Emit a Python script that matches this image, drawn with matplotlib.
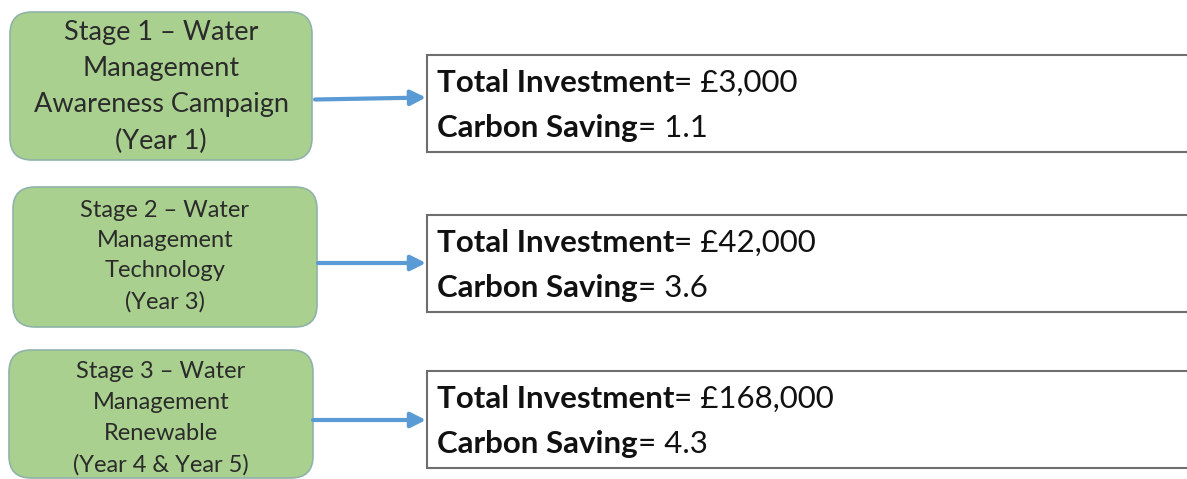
import matplotlib
matplotlib.use("Agg")
import matplotlib.pyplot as plt
from matplotlib.patches import FancyBboxPatch, Rectangle

stage_labels = [
    "Stage 1 \u2013 Water\nManagement\nAwareness Campaign\n(Year 1)",
    "Stage 2 \u2013 Water\nManagement\nTechnology\n(Year 3)",
    "Stage 3 \u2013 Water\nManagement\nRenewable\n(Year 4 & Year 5)",
]
investments = ["\u00a33,000", "\u00a342,000", "\u00a3168,000"]
carbon_savings = ["1.1", "3.6", "4.3"]

# layout (pixel coordinates)
green_boxes = [(10, 12, 302, 148), (13, 187, 304, 140), (9, 350, 304, 128)]
green_fs = [19.5, 17.0, 17.0]
green_ls = [1.55, 1.55, 1.58]
green_dy = [1, -1, 4]
white_boxes = [(427, 55, 780, 97), (427, 215, 780, 97), (427, 371, 780, 97)]
arrows = [((315, 99.5), (426, 97.5)), ((318, 263), (426, 263)), ((313, 420), (426, 420))]

plt.rcParams['font.family'] = ['Lato', 'DejaVu Sans']

fig = plt.figure(figsize=(11.87, 4.79), dpi=100)
ax = fig.add_axes([0, 0, 1, 1])
ax.set_xlim(0, 1187)
ax.set_ylim(479, 0)
ax.axis('off')

for (x, y, w, h), lab, fs, ls, dy in zip(green_boxes, stage_labels, green_fs, green_ls, green_dy):
    ax.add_patch(FancyBboxPatch((x, y), w, h, boxstyle="round,pad=0,rounding_size=22",
                                facecolor="#a9d08e", edgecolor="#8fb3a8", linewidth=1.2,
                                mutation_aspect=1))
    ax.text(x + w / 2, y + h / 2 + dy, lab, ha='center', va='center', fontsize=fs,
            color="#2b2b2b", linespacing=ls)

for (x, y, w, h), inv, cs in zip(white_boxes, investments, carbon_savings):
    ax.add_patch(Rectangle((x, y), w, h, facecolor='white', edgecolor='#6e6e6e', linewidth=1.5))
    t1 = ax.text(x + 10, y + 28, "Total Investment", fontsize=22.5, fontweight='bold',
                 va='center', ha='left', color='#111111')
    ax.annotate("= " + inv, xy=(1, 0.5), xycoords=t1, va='center', ha='left',
                fontsize=22.5, color='#111111')
    t2 = ax.text(x + 10, y + 73, "Carbon Saving", fontsize=22.5, fontweight='bold',
                 va='center', ha='left', color='#111111')
    ax.annotate("= " + cs, xy=(1, 0.5), xycoords=t2, va='center', ha='left',
                fontsize=22.5, color='#111111')

for (p0, p1) in arrows:
    ax.annotate("", xy=p1, xytext=p0,
                arrowprops=dict(arrowstyle="-|>,head_length=0.9,head_width=0.45",
                                color="#5b9bd5", lw=3, shrinkA=0, shrinkB=0))

fig.savefig("out.png", dpi=100)
